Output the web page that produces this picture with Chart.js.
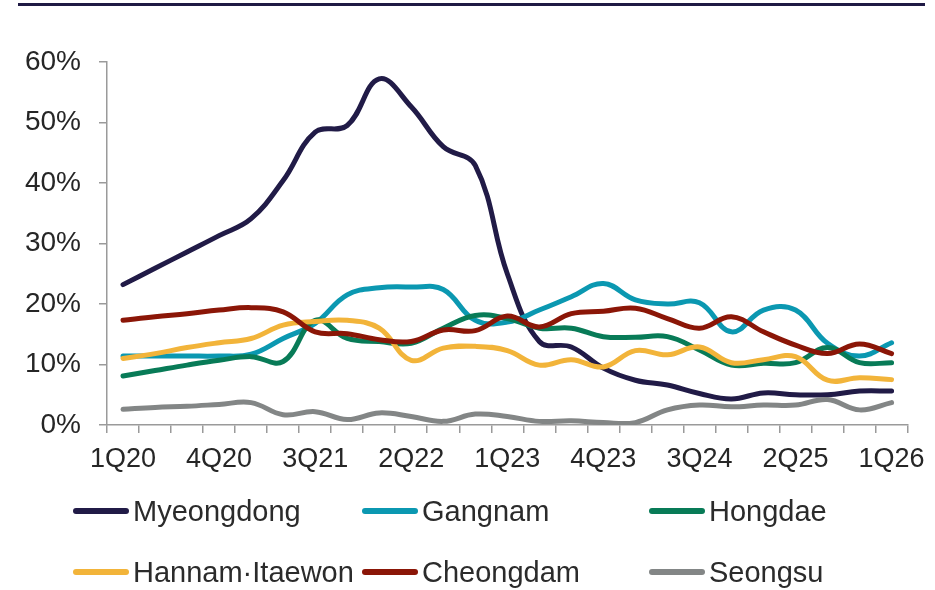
<!DOCTYPE html>
<html>
<head>
<meta charset="utf-8">
<script src="https://cdn.jsdelivr.net/npm/chart.js@4/dist/chart.umd.min.js"></script>
<style>
    html, body { margin: 0; padding: 0; background: #fff; }
    #wrap { position: relative; width: 935px; height: 590px; font-family: "Liberation Sans", Arial, sans-serif; }
    #topRule { position: absolute; left: 18px; top: 3px; width: 907px; height: 3px; background: #1f1a44; }
    #chart { position: absolute; left: 0; top: 0; }
    .legend-item { position: absolute; height: 34px; display: flex; align-items: center; font-size: 29px; color: #2b2b2b; white-space: nowrap; }
    .legend-item i { display: inline-block; width: 56px; height: 6px; border-radius: 3px; margin-right: 4px; }
</style>
</head>
<body>
<div id="wrap">
    <div id="topRule"></div>
    <canvas id="chart" width="935" height="590"></canvas>
    <div id="legend"></div>
</div>
<script>
const quarters = [
    '1Q20', '2Q20', '3Q20', '4Q20', '1Q21', '2Q21', '3Q21', '4Q21', '1Q22', '2Q22', '3Q22', '4Q22',
    '1Q23', '2Q23', '3Q23', '4Q23', '1Q24', '2Q24', '3Q24', '4Q24', '1Q25', '2Q25', '3Q25', '4Q25', '1Q26',
];
const shownQuarters = ['1Q20', '4Q20', '3Q21', '2Q22', '1Q23', '4Q23', '3Q24', '2Q25', '1Q26'];
const yTicks = [0, 10, 20, 30, 40, 50, 60];

// vacancy rate, %
const myeongdong = [23.2, 25.9, 28.6, 31.3, 34.1, 40.4, 48.4, 49.5, 57.2, 52.6, 46.0, 42.9, 25.0, 13.8, 12.9, 9.4, 7.4, 6.6, 5.2, 4.3, 5.3, 5.0, 5.0, 5.6, 5.6];
const gangnam = [11.4, 11.4, 11.4, 11.4, 11.7, 14.3, 16.8, 21.5, 22.7, 22.8, 22.4, 17.3, 17.0, 19.0, 21.2, 23.4, 20.7, 20.0, 20.2, 15.4, 19.0, 19.0, 13.5, 11.4, 13.6];
const hongdae = [8.1, 9.0, 9.9, 10.7, 11.3, 10.5, 17.3, 14.3, 13.8, 13.5, 16.0, 18.1, 17.6, 16.0, 16.0, 14.6, 14.5, 14.6, 12.4, 9.9, 10.2, 10.3, 12.8, 10.3, 10.3];
const hannamItaewon = [11.0, 11.8, 12.8, 13.6, 14.3, 16.5, 17.1, 17.3, 16.0, 10.7, 12.7, 13.0, 12.3, 9.9, 10.8, 9.6, 12.3, 11.6, 12.9, 10.3, 10.8, 11.3, 7.4, 7.8, 7.5];
const cheongdam = [17.3, 17.9, 18.4, 19.0, 19.4, 18.7, 15.4, 15.1, 14.1, 13.8, 15.7, 15.6, 18.0, 16.2, 18.4, 18.8, 19.3, 17.6, 16.0, 17.9, 15.4, 13.2, 11.8, 13.4, 11.8];
const seongsu = [2.6, 2.9, 3.1, 3.4, 3.7, 1.7, 2.2, 0.9, 2.0, 1.4, 0.6, 1.8, 1.4, 0.6, 0.7, 0.4, 0.4, 2.5, 3.3, 3.0, 3.3, 3.3, 4.2, 2.5, 3.7];

const seriesNames = ['Myeongdong', 'Gangnam', 'Hongdae', 'Hannam·Itaewon', 'Cheongdam', 'Seongsu'];
const seriesData = [myeongdong, gangnam, hongdae, hannamItaewon, cheongdam, seongsu];
const seriesColors = ['#211b47', '#0b98b1', '#087b57', '#f2b43a', '#8b1607', '#838686'];

const legendSlots = [
    { left: 73, top: 494 }, { left: 362, top: 494 }, { left: 649, top: 494 },
    { left: 73, top: 555 }, { left: 362, top: 555 }, { left: 649, top: 555 },
];

const legend = document.getElementById('legend');
seriesNames.forEach((name, i) => {
    const item = document.createElement('div');
    item.className = 'legend-item';
    item.style.left = legendSlots[i].left + 'px';
    item.style.top = legendSlots[i].top + 'px';
    const swatch = document.createElement('i');
    swatch.style.background = seriesColors[i];
    item.appendChild(swatch);
    item.appendChild(document.createTextNode(name));
    legend.appendChild(item);
});

const axisColor = '#9a9a9a';
const fontFamily = '"Liberation Sans", Arial, sans-serif';

new Chart(document.getElementById('chart'), {
    type: 'line',
    data: {
        labels: quarters,
        datasets: seriesNames.map((name, i) => ({
            label: name,
            data: seriesData[i],
            borderColor: seriesColors[i],
            backgroundColor: seriesColors[i],
            borderWidth: 5,
            pointRadius: 0,
            tension: 0.4,
            fill: false,
            borderCapStyle: 'round',
            order: seriesNames.length - i,
        })),
    },
    options: {
        responsive: false,
        animation: false,
        layout: { padding: { left: 0, right: 20, top: 62, bottom: 0 } },
        plugins: {
            legend: { display: false },
            tooltip: { enabled: false },
        },
        scales: {
            x: {
                offset: true,
                grid: {
                    offset: true,
                    drawOnChartArea: false,
                    drawTicks: true,
                    tickLength: 8,
                    color: axisColor,
                    lineWidth: 1.5,
                },
                border: { color: axisColor, width: 1.5 },
                ticks: {
                    autoSkip: false,
                    maxRotation: 0,
                    color: '#262626',
                    font: { family: fontFamily, size: 27 },
                    padding: 10,
                    callback: (value, index) => (shownQuarters.includes(quarters[index]) ? quarters[index] : ''),
                },
                afterFit: (scale) => { scale.height = 165; },
            },
            y: {
                min: 0,
                max: 60,
                afterBuildTicks: (scale) => { scale.ticks = yTicks.map((v) => ({ value: v })); },
                grid: {
                    drawOnChartArea: false,
                    drawTicks: true,
                    tickLength: 8,
                    color: axisColor,
                    lineWidth: 1.5,
                },
                border: { color: axisColor, width: 1.5 },
                ticks: {
                    color: '#262626',
                    font: { family: fontFamily, size: 28 },
                    padding: 18,
                    callback: (value) => value + '%',
                },
                afterFit: (scale) => { scale.width = 107; },
            },
        },
    },
});
</script>
</body>
</html>
